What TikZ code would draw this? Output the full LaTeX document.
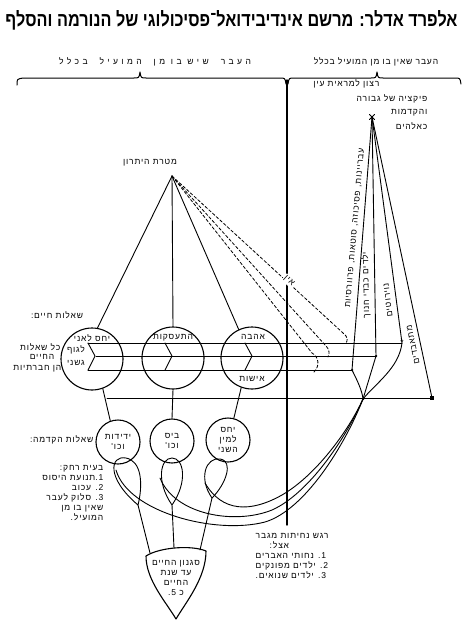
\documentclass[tikz,border=0pt]{standalone}
\usepackage{graphicx}
\usepackage{fontspec}
\setmainfont{Liberation Sans}
\newfontfamily\heb[Script=Hebrew,LetterSpace=10]{Liberation Sans}
\newfontfamily\hebwide[Script=Hebrew,LetterSpace=40]{Liberation Sans}
\newfontfamily\hebtitle[Script=Hebrew]{Liberation Sans}
\TeXXeTstate=1
\usetikzlibrary{arrows.meta}
\usetikzlibrary{calc}
\newcommand{\rl}[1]{\beginR #1\endR}
\newcommand{\lr}[1]{\beginL #1\endL{}}

\tikzset{
	lbl/.style={font=\heb\fontsize{8.5}{10}\selectfont, inner sep=0.5pt},
	bigcirc/.style={circle, draw, line width=1.1pt, minimum size=62pt, inner sep=0pt},
	smallcirc/.style={circle, draw, line width=1.1pt, minimum size=44pt, inner sep=0pt},
	ray/.style={line width=0.9pt},
	dray/.style={line width=0.8pt, dash pattern=on 3pt off 2pt},
	shaft/.style={line width=0.9pt},
	sqmark/.style={fill, minimum size=3.5pt, inner sep=0pt},
	dotmark/.style={circle, fill, minimum size=2.5pt, inner sep=0pt},
}

\begin{document}
\begin{tikzpicture}[x=1pt,y=-1pt,line cap=round,line join=round]
	\useasboundingbox (0,0) rectangle (463,634);
	% title and the two headers
	\node (title) at (231.5,20) {\resizebox{452pt}{16pt}{\hebtitle\bfseries\rl{אלפרד אדלר: מרשם אינדיבידואל־פסיכולוגי של הנורמה והסלף}}};
	\node[lbl] (hdruse) at (155,62) {\hebwide\rl{העבר\hspace{12pt}שיש בו מן\hspace{12pt}המועיל\hspace{12pt}בכלל}};
	\node[lbl] (hdrnouse) at (376,62) {\rl{העבר שאין בו מן המועיל בכלל}};
	\draw[line width=1pt] (17,85) .. controls (17,79) .. (23,78) -- (134,78) .. controls (139,78) .. (140,72) .. controls (141,78) .. (146,78) -- (280,78) .. controls (285,78) .. (286,84);
	\draw[line width=1pt] (288,84) .. controls (289,78) .. (294,78) -- (371,78) .. controls (376,78) .. (377,72) .. controls (378,78) .. (383,78) -- (455,78) .. controls (460,78) .. (461,84);
	\coordinate (divtop) at (287,80);
	\coordinate (divbot) at (287,525);
	\draw[line width=1.4pt] (divtop) -- (divbot);

	% fiction of superiority
	\node[lbl, anchor=east] (wish) at (380,84) {\rl{רצון למראית עין}};
	\node[lbl, anchor=east] (fiction) at (428,99) {\rl{פיקציה של גבורה}};
	\node[lbl, anchor=east] (godlike) at (428,113) {\rl{והקדמות}};
	\node[lbl, anchor=east] (godlike2) at (428,126) {\rl{כאלהים}};
	\coordinate (fict) at (372,117);
	\draw[line width=0.8pt] (fict) +(-2.5,-2.5) -- +(2.5,2.5) (fict) +(-2.5,2.5) -- +(2.5,-2.5);

	% goal
	\node[lbl] (goaltxt) at (150,163) {\rl{מטרת היתרון}};
	\coordinate (goal) at (172,176);

	% life questions
	\node[bigcirc] (self) at (92,359) {};
	\node[bigcirc] (work) at (173,358) {};
	\node[bigcirc] (love) at (252,358) {};
	\node[lbl] (selftxt) at (92,338) {\rl{יחס לאני}};
	\node[lbl] (bodytxt) at (76,350) {\rl{לגוף}};
	\node[lbl] (bodytxt2) at (76,363) {\rl{גשני}};
	\node[lbl] (worktxt) at (173,338) {\rl{התעסקות}};
	\node[lbl] (lovetxt) at (253,337) {\rl{אהבה}};
	\node[lbl] (marrtxt) at (252,379) {\rl{אישות}};
	\node[lbl] (lifeq) at (57,315) {\rl{שאלות חיים:}};
	\node[lbl, anchor=east] (allq) at (61,347) {\rl{כל שאלות}};
	\node[lbl] (allq2) at (42,357) {\rl{החיים}};
	\node[lbl, anchor=east] (allq3) at (62,369) {\rl{הן חברתיות}};

	\draw[ray] (goal) -- (self.80);
	\draw[ray] (goal) -- (work.north);
	\draw[ray] (goal) -- (love.115);

	% arrows through the circles
	\coordinate (s1) at (88,343);
	\coordinate (s2) at (96,356);
	\coordinate (s3) at (88,370);
	\coordinate (e1) at (352,370);
	\coordinate (e2) at (376,356);
	\coordinate (e3) at (402,343);
	\coordinate (e4) at (432,398);
	\coordinate (q) at (363,399);
	\coordinate (b0) at (107,398);
	\draw[shaft] (s1) -- (e3);
	\draw[shaft] (s2) -- (e2);
	\draw[shaft] (s3) -- (e1);
	\foreach \cx in {88,165,245}
		\draw[shaft] (\cx,343) -- (\cx+7,356) -- (\cx,370);
	\draw[shaft] (b0) -- (e4);

	% dashed ways out
	\coordinate (d1) at (343,333);
	\coordinate (d2) at (326,346);
	\coordinate (d3) at (312,353);
	\draw[dray] (goal) -- (d1) .. controls (348,337) and (348,340) .. (346,343);
	\draw[dray] (goal) -- (d2) .. controls (329,349) and (330,353) .. (328,357);
	\draw[dray] (goal) -- (d3) .. controls (319,357) and (320,366) .. (314,372);
	\node[lbl, rotate=-42, fill=white, inner sep=1pt] (nil) at (289,281) {\rl{אין}};

	% useless side
	\draw[ray] (fict) -- (e1);
	\draw[ray] (fict) -- (e2);
	\draw[ray] (fict) -- (e3);
	\draw[ray] (fict) -- (e4);
	\draw[ray] (e1) .. controls (357,380) and (362,390) .. (q);
	\draw[ray] (e2) -- (q);
	\draw[ray] (e3) .. controls (399,368) and (376,383) .. (q);
	\node[sqmark] (m4) at (e4) {};
	\node[dotmark] (m1) at (e1) {};
	\node[dotmark] (m2) at (e2) {};
	\node[dotmark] (mq) at (q) {};
	\node[lbl, inner sep=0pt] (m3) at (e3) {*};
	\node[lbl, rotate=85] (crime) at (355,228) {\rl{עבריינות, פסיכוזה, סוטאות, פרוורסיות}};
	\node[lbl, rotate=91] (hard) at (366,285) {\rl{ילדים כבדי חנוך}};
	\node[lbl, rotate=97] (neur) at (388,300) {\rl{נוירוטים}};
	\node[lbl, rotate=102] (suic) at (413,345) {\rl{מתאבדים}};

	% preliminary questions
	\node[smallcirc] (friend) at (118,442) {};
	\node[smallcirc] (job) at (172,441) {};
	\node[smallcirc] (sex) at (228,440) {};
	\node[lbl, align=center] (friendtxt) at (118,442) {\rl{ידידות}\\\rl{וכו'}};
	\node[lbl, align=center] (jobtxt) at (172,441) {\rl{ביס}\\\rl{וכו'}};
	\node[lbl, align=center] (sextxt) at (228,440) {\rl{יחס}\\\rl{למין}\\\rl{השני}};
	\node[lbl, anchor=east] (preq) at (94,440) {\rl{שאלות הקדמה:}};
	\draw[ray] (self.290) -- (friend.110);
	\draw[ray] (work.south) -- (job.north);
	\draw[ray] (love.250) -- (sex.75);

	\node[lbl, align=right, anchor=north east] (distance) at (104,465) {\rl{בעית רחק:}\\\rl{\lr{1.}תנועת היסוס}\\\rl{\lr{2.} עכוב}\\\rl{\lr{3.} סלוק לעבר}\\\rl{שאין בו מן}\\\rl{המועיל.}};

	% loops and the life style
	\coordinate (t1) at (138,505);
	\coordinate (t2) at (172,505);
	\coordinate (t3) at (212,498);
	\coordinate (bl) at (150,553);
	\coordinate (bm) at (174,548);
	\coordinate (br) at (200,550);
	\draw[ray] (t1) .. controls (106,478) and (110,455) .. (126,458) .. controls (142,461) and (143,485) .. (t1);
	\draw[ray] (t2) .. controls (156,482) and (160,458) .. (172,458) .. controls (184,458) and (188,482) .. (t2);
	\draw[ray] (t3) .. controls (198,478) and (206,457) .. (220,459) .. controls (234,461) and (226,484) .. (t3);
	\draw[ray] (t1) -- (bl);
	\draw[ray] (t2) -- (bm);
	\draw[ray] (t3) -- (br);
	\coordinate (g1) at (116,470);
	\coordinate (g2) at (160,478);
	\coordinate (g3) at (205,483);
	\draw[ray] (g1) .. controls (128,512) and (215,535) .. (265,522) .. controls (305,510) and (345,445) .. (q);
	\draw[ray] (g2) .. controls (175,515) and (235,525) .. (272,510) .. controls (308,494) and (345,440) .. (q);
	\draw[ray] (g3) .. controls (222,512) and (250,513) .. (282,495) .. controls (315,476) and (348,432) .. (q);

	\draw[line width=1.1pt] (146,556) .. controls (160,547) and (192,545) .. (206,551) .. controls (206,578) and (186,602) .. (176,619) .. controls (166,602) and (146,580) .. cycle;
	\node[lbl, align=center] (lifestyle) at (176,578) {\rl{סגנון החיים}\\\rl{עד שנת}\\\rl{החיים}\\\rl{כ \lr{5.}}};

	\node[lbl, align=left, anchor=north west] (inferior) at (255,533) {\rl{רגש נחיתות מגבר}\\\hspace*{14pt}\rl{אצל:}\\\rl{\lr{1.} נחותי האברים}\\\rl{\lr{2.} ילדים מפונקים}\\\rl{\lr{3.} ילדים שנואים.}};
\end{tikzpicture}
\end{document}
